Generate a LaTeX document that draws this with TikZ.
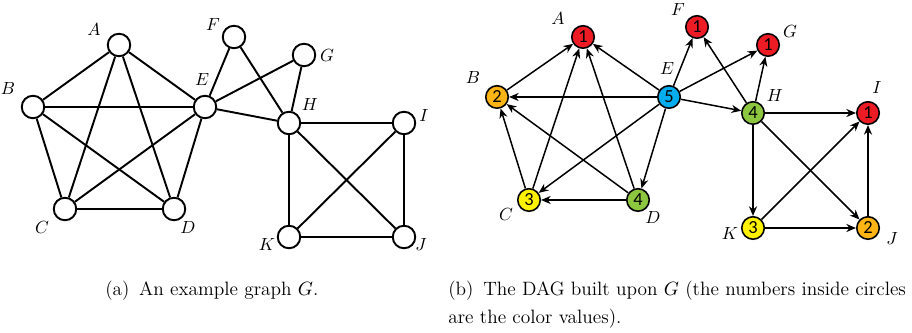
\documentclass[tikz,border=0pt]{standalone}
\usepackage{fontspec}
\usepackage{tikz}
\usetikzlibrary{arrows.meta}
\newfontfamily\numfont{Carlito}
\definecolor{cred}{HTML}{ED1C24}
\definecolor{corange}{HTML}{FDB515}
\definecolor{cyellow}{HTML}{FFF200}
\definecolor{cgreen}{HTML}{8DC63F}
\definecolor{cblue}{HTML}{00AEEF}
\tikzset{
  vtx/.style={circle,draw=black,fill=white,line width=1.1pt,minimum size=0.45cm,inner sep=0pt},
  cvtx/.style={circle,draw=black,fill=#1,line width=0.9pt,minimum size=0.45cm,inner sep=0pt,font=\fontsize{10.5}{10.5}\selectfont\numfont},
  lbl/.style={font=\fontsize{10}{10}\selectfont,inner sep=0pt},
  edg/.style={line width=1.1pt},
  arr/.style={-{Stealth[length=5.5pt,width=4.6pt]},line width=0.85pt},
  captxt/.style={font=\fontsize{11}{16}\selectfont,inner sep=0pt,align=left},
}
\begin{document}
\begin{tikzpicture}[x=0.02cm,y=-0.02cm]
  \useasboundingbox (0,0) rectangle (912,333);
  % (a) the graph G
  \foreach \n/\x/\y/\lx/\ly in {A/119/45/94/30,B/33/107/8/89,C/65/209/42/228,D/174/209/188/228,E/205/107/202/80,F/234/37/213/25,G/304/55/327/56,H/289/123/310/105,I/404/123/424/116,J/404/237/421/245,K/289/237/267/245} {
    \node[vtx] (g\n) at (\x,\y) {};
    \node[lbl] (lg\n) at (\lx,\ly) {$\n$};
  }
  \foreach \a/\b in {A/B,A/C,A/D,A/E,B/E,B/C,B/D,C/D,C/E,D/E,E/F,E/G,E/H,F/H,G/H,H/I,H/K,H/J,I/K,I/J,K/J}
    \draw[edg] (g\a) -- (g\b);
  % (b) the DAG with colour values
  \foreach \n/\x/\y/\lx/\ly/\c/\v in {A/583/37/558/19/cred/1,B/497/97/473/78/corange/2,C/529/200/506/215/cyellow/3,D/638/200/653/218/cgreen/4,E/669/97/667/69/cblue/5,F/697/27/678/10/cred/1,G/768/45/790/32/cred/1,H/753/113/775/96/cgreen/4,I/868/113/877/88/cred/1,J/868/228/892/239/corange/2,K/753/228/730/234/cyellow/3} {
    \node[cvtx=\c] (d\n) at (\x,\y) {\v};
    \node[lbl] (ld\n) at (\lx,\ly) {$\n$};
  }
  \foreach \a/\b in {B/A,C/A,D/A,E/A,E/B,C/B,D/B,E/C,E/D,D/C,E/F,E/G,E/H,H/F,H/G,H/I,H/K,H/J,K/I,J/I,K/J}
    \draw[arr] (d\a) -- (d\b);
  % captions
  \node[captxt,anchor=base west] (capa) at (105,296) {(a)\enspace An example graph $G$.};
  \node[captxt,anchor=base west] (capb) at (448,296) {(b)\enspace The DAG built upon $G$ (the numbers inside circles};
  \node[captxt,anchor=base west] (capc) at (448,324) {are the color values).};
\end{tikzpicture}
\end{document}
